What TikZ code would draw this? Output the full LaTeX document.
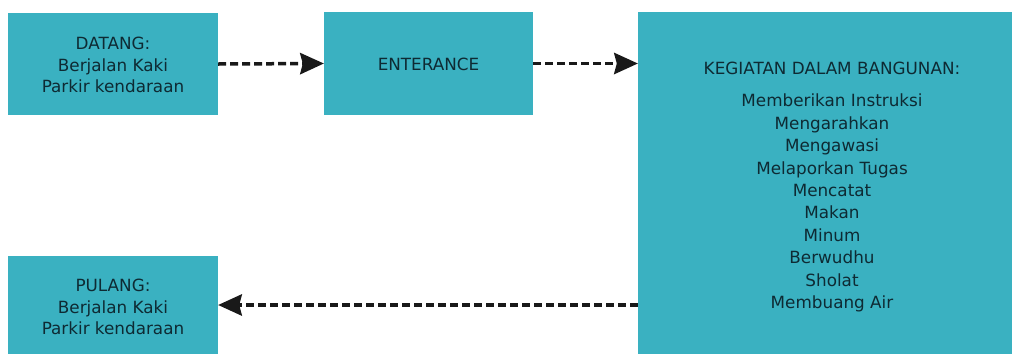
\documentclass[tikz,border=0pt]{standalone}
\usepackage{fontspec}
\setmainfont{DejaVu Sans}
\usetikzlibrary{arrows.meta}
\definecolor{boxteal}{HTML}{3AB1C1}
\definecolor{txtdark}{HTML}{0E2A33}
\begin{document}
\begin{tikzpicture}[x=1bp,y=-1bp,
  box/.style={rectangle, fill=boxteal, draw=none, inner sep=0pt},
  boxtext/.style={text=txtdark, align=center, font=\fontsize{16.8bp}{21.5bp}\selectfont},
  flowarrow/.style={line width=3.5bp, black!90, dash pattern=on 8bp off 4bp,
    -{Stealth[length=24bp,width=22bp,inset=3bp,line width=0pt]}}]
\useasboundingbox (0,0) rectangle (1018,354);
\fill[white] (0,0) rectangle (1018,354);
\node[box, minimum width=210bp, minimum height=102bp] (datang) at (113,64) {};
\node[boxtext] (datangtxt) at (113,65) {DATANG:\\Berjalan Kaki\\Parkir kendaraan};
\node[box, minimum width=209bp, minimum height=103bp] (enter) at (428.5,63.5) {};
\node[boxtext] (entertxt) at (428.5,64) {ENTERANCE};
\node[box, minimum width=374bp, minimum height=342bp] (kegiatan) at (825,183) {};
\node[boxtext] (kegtitle) at (832,68) {KEGIATAN DALAM BANGUNAN:};
\node[boxtext, font=\fontsize{16.8bp}{22.4bp}\selectfont] (kegl) at (832,203) {Memberikan Instruksi\\Mengarahkan\\Mengawasi\\Melaporkan Tugas\\Mencatat\\Makan\\Minum\\Berwudhu\\Sholat\\Membuang Air};
\node[box, minimum width=210bp, minimum height=98bp] (pulang) at (113,305) {};
\node[boxtext] (pulangtxt) at (113,307) {PULANG:\\Berjalan Kaki\\Parkir kendaraan};
\draw[flowarrow] (datang.east) -- (enter.west);
\draw[flowarrow] (enter.east) -- (enter.east -| kegiatan.west);
\draw[flowarrow] (pulang.east -| kegiatan.west) -- (pulang.east);
\end{tikzpicture}
\end{document}
